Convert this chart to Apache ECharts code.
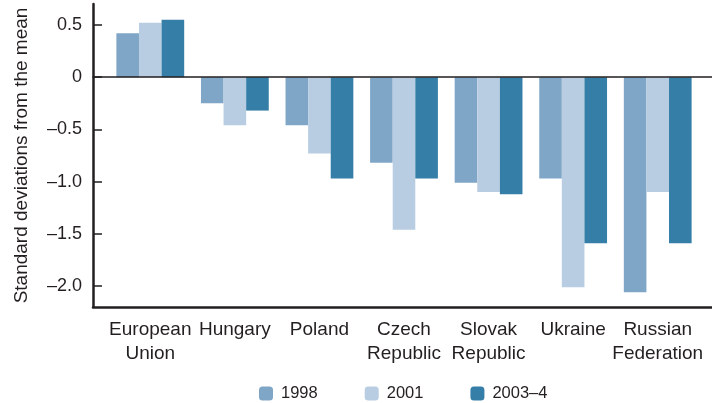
<!DOCTYPE html>
<html>
<head>
<meta charset="utf-8">
<script src="https://cdn.jsdelivr.net/npm/echarts@6/dist/echarts.min.js"></script>
<style>
  html, body { margin: 0; padding: 0; background: #fff; }
  #chart { width: 712px; height: 403px; }
</style>
</head>
<body>
<div id="chart"></div>
<script>
// data
const categories = ['European\nUnion', 'Hungary', 'Poland', 'Czech\nRepublic', 'Slovak\nRepublic', 'Ukraine', 'Russian\nFederation'];
const v1998 = [0.42, -0.25, -0.46, -0.82, -1.01, -0.97, -2.06];
const v2001 = [0.52, -0.46, -0.73, -1.46, -1.10, -2.01, -1.10];
const v2003 = [0.55, -0.32, -0.97, -0.97, -1.12, -1.59, -1.59];
const yTicks = [0.5, 0, -0.5, -1.0, -1.5, -2.0];

const ink = '#231f20';
const font = "'Liberation Sans', Arial, sans-serif";

const chart = echarts.init(document.getElementById('chart'), null, { renderer: 'canvas' });

const fmt = v => v === 0 ? '0' : v.toFixed(1).replace('-', '\u2013');

const option = {
    animation: false,
    backgroundColor: '#fff',
    textStyle: { fontFamily: font, color: ink },
    // grid 0 carries the axis frame, grid 1 carries the bars
    grid: [
        { left: 93, right: 0, top: 4, height: 303 },
        { left: 108, right: 12, top: 4, height: 303 }
    ],
    legend: {
        left: 254,
        top: 380,
        itemWidth: 14,
        itemHeight: 14,
        itemGap: 47,
        textStyle: { fontSize: 16.5, color: ink, fontFamily: font, padding: [0, 0, 0, 3] },
        data: ['1998', '2001', '2003\u20134']
    },
    xAxis: [
        {
            gridIndex: 0, type: 'value', min: 0, max: 1,
            axisLine: { show: true, onZero: false, lineStyle: { color: ink, width: 2.5 } },
            axisTick: { show: false }, axisLabel: { show: false }, splitLine: { show: false }
        },
        {
            gridIndex: 0, type: 'value', min: 0, max: 1, position: 'top', z: 10,
            axisLine: { show: true, onZero: true, lineStyle: { color: ink, width: 1.5 } },
            axisTick: { show: false }, axisLabel: { show: false }, splitLine: { show: false }
        },
        {
            gridIndex: 1, type: 'category', data: categories,
            axisLine: { show: false }, axisTick: { show: false },
            axisLabel: { margin: 11, fontSize: 19, lineHeight: 24, color: ink, fontFamily: font, interval: 0 }
        }
    ],
    yAxis: [
        {
            gridIndex: 0, type: 'value', min: -2.2, max: 0.7,
            name: 'Standard deviations from the mean',
            nameLocation: 'middle',
            nameGap: 62,
            nameTextStyle: { fontSize: 19, color: ink, fontFamily: font },
            axisLine: { show: true, lineStyle: { color: ink, width: 2.5 } },
            axisTick: { show: true, inside: true, length: 9, customValues: yTicks, lineStyle: { color: ink, width: 1.5 } },
            axisLabel: { customValues: yTicks, formatter: fmt, fontSize: 18, color: ink, fontFamily: font, margin: 11 },
            splitLine: { show: false }
        },
        {
            gridIndex: 1, type: 'value', min: -2.2, max: 0.7, show: false,
            splitLine: { show: false }
        }
    ],
    series: [
        { name: '1998', type: 'bar', xAxisIndex: 2, yAxisIndex: 1, data: v1998, barWidth: 22.6, barGap: '0%', itemStyle: { color: '#7fa6c7' } },
        { name: '2001', type: 'bar', xAxisIndex: 2, yAxisIndex: 1, data: v2001, barWidth: 22.6, barGap: '0%', itemStyle: { color: '#b8cde1' } },
        { name: '2003\u20134', type: 'bar', xAxisIndex: 2, yAxisIndex: 1, data: v2003, barWidth: 22.6, barGap: '0%', itemStyle: { color: '#357ea8' } }
    ]
};

chart.setOption(option);
</script>
</body>
</html>
